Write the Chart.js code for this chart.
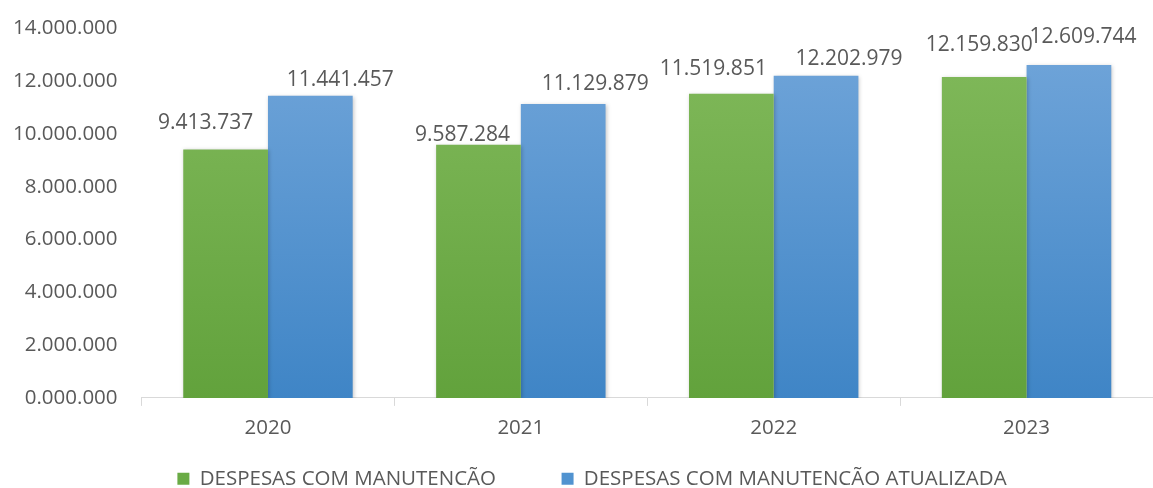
<!DOCTYPE html>
<html>
<head>
<meta charset="utf-8">
<script src="https://cdn.jsdelivr.net/npm/chart.js@4"></script>
<style>
  html, body { margin: 0; padding: 0; background: #fff; }
  #wrap { width: 1153px; height: 488px; }
</style>
</head>
<body>
<div id="wrap"><canvas id="chart"></canvas></div>
<script>
// Data
const years = ['2020', '2021', '2022', '2023'];
const despesas = [9413737, 9587284, 11519851, 12159830];
const despesasAtualizadas = [11441457, 11129879, 12202979, 12609744];
const seriesNames = ['DESPESAS COM MANUTENCÃO', 'DESPESAS COM MANUTENCÃO ATUALIZADA'];

// the value labels were hand-placed in the original, nudged off the bar centre (px)
const labelNudgeX = [[-20, -16, -18, -5], [30, 32, 33, 14]];
const labelGap = [[20, 4, 19, 26], [10, 14, 11, 22]];

const TEXT = '#595959';
const FONT = "'Open Sans', 'Noto Sans', sans-serif";
const FS = 20.5;

// 0 -> 0.000.000, 2000000 -> 2.000.000
function fmtDots(v) {
  const s = String(Math.round(v)).padStart(7, '0');
  return s.replace(/\B(?=(\d{3})+(?!\d))/g, '.');
}

function gradient(ctx, top, bottom) {
  const area = ctx.chart.chartArea;
  if (!area) return bottom;
  const g = ctx.chart.ctx.createLinearGradient(0, area.top, 0, area.bottom);
  g.addColorStop(0, top);
  g.addColorStop(1, bottom);
  return g;
}

// draws the value above each bar
const valueLabels = {
  id: 'valueLabels',
  afterDatasetsDraw(chart) {
    const ctx = chart.ctx;
    ctx.save();
    ctx.font = '21px ' + FONT;
    ctx.fillStyle = TEXT;
    ctx.textAlign = 'center';
    ctx.textBaseline = 'alphabetic';
    chart.data.datasets.forEach((ds, i) => {
      chart.getDatasetMeta(i).data.forEach((bar, j) => {
        ctx.fillText(fmtDots(ds.data[j]), bar.x + labelNudgeX[i][j], bar.y - labelGap[i][j]);
      });
    });
    ctx.restore();
  }
};

// soft shadow on the bars
const barShadow = {
  id: 'barShadow',
  beforeDatasetsDraw(chart) {
    chart.ctx.save();
    chart.ctx.shadowColor = 'rgba(0,0,0,0.22)';
    chart.ctx.shadowBlur = 4;
    chart.ctx.shadowOffsetX = 1;
    chart.ctx.shadowOffsetY = 1;
  },
  afterDatasetsDraw(chart) {
    chart.ctx.restore();
  }
};

// move the legend a bit right and down, like the original
const legendShift = {
  id: 'legendShift',
  afterUpdate(chart) {
    const lg = chart.legend;
    lg.left += 15; lg.right += 15;
    lg.top += 11; lg.bottom += 11;
  }
};

new Chart(document.getElementById('chart'), {
  type: 'bar',
  data: {
    labels: years,
    datasets: [
      {
        label: seriesNames[0],
        data: despesas,
        backgroundColor: c => gradient(c, '#82ba5c', '#62a23c'),
        categoryPercentage: 0.67,
        barPercentage: 1.0
      },
      {
        label: seriesNames[1],
        data: despesasAtualizadas,
        backgroundColor: c => gradient(c, '#72a6da', '#3f85c6'),
        categoryPercentage: 0.67,
        barPercentage: 1.0
      }
    ]
  },
  options: {
    responsive: true,
    maintainAspectRatio: false,
    animation: false,
    layout: { padding: { top: -3, right: -4, left: -3, bottom: 0 } },
    scales: {
      x: {
        grid: { display: true, drawOnChartArea: false, color: '#d9d9d9', tickLength: 8, offset: true },
        border: { display: true, color: '#d9d9d9' },
        ticks: { color: TEXT, font: { family: FONT, size: FS }, padding: 10 }
      },
      y: {
        min: 0,
        max: 14000000,
        grid: { display: false },
        border: { display: false },
        ticks: {
          stepSize: 2000000,
          color: TEXT,
          font: { family: FONT, size: FS },
          padding: 16,
          callback: v => fmtDots(v)
        }
      }
    },
    plugins: {
      legend: {
        position: 'bottom',
        labels: {
          color: TEXT,
          font: { family: FONT, size: FS },
          boxWidth: 12,
          boxHeight: 12,
          padding: 7,
          generateLabels(chart) {
            const fills = ['#6aab45', '#5193d0'];
            return chart.data.datasets.map((ds, i) => ({
              // trailing spaces widen the gap between the two entries
              text: i === 0 ? ds.label + '           ' : ds.label,
              fillStyle: fills[i],
              strokeStyle: fills[i],
              lineWidth: 0,
              datasetIndex: i,
              fontColor: TEXT
            }));
          }
        }
      },
      tooltip: { enabled: false }
    }
  },
  plugins: [barShadow, valueLabels, legendShift]
});
</script>
</body>
</html>
